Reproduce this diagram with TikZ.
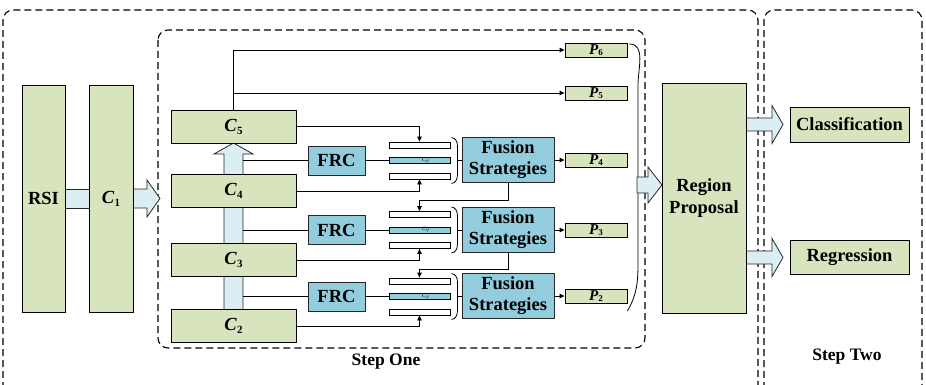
\documentclass[tikz,border=0pt]{standalone}
\usepackage{fontspec}
\setmainfont{Liberation Serif}
\usetikzlibrary{arrows.meta,calc}
\definecolor{boxgreen}{HTML}{D7E4BD}
\definecolor{boxblue}{HTML}{93CDDD}
\definecolor{fatblue}{HTML}{DAEEF3}
\definecolor{edgegray}{HTML}{262626}
% bold italic letter with an upright bold index
\newcommand\csym[2]{\textbf{\textit{#1}}\raisebox{-0.35ex}{\fontsize{11}{11}\selectfont\bfseries #2}}
\newcommand\psym[2]{{\fontsize{15}{15}\selectfont\textbf{\textit{#1}}}\raisebox{-0.3ex}{\fontsize{9}{9}\selectfont\bfseries #2}}
\begin{document}
\begin{tikzpicture}[x=1pt,y=-1pt,
  gbox/.style={draw=black, fill=boxgreen, line width=0.9pt, inner sep=0pt,
    align=center, font=\fontsize{18.5}{22}\selectfont\bfseries},
  bbox/.style={draw=edgegray, fill=boxblue, line width=0.9pt, inner sep=0pt,
    align=center, font=\fontsize{18.5}{21}\selectfont\bfseries},
  pbox/.style={draw=black, fill=boxgreen, line width=0.9pt, inner sep=0pt,
    minimum width=62pt, minimum height=14pt},
  cbox/.style={gbox, minimum width=125pt, minimum height=33pt},
  barbox/.style={draw=black, fill=white, line width=0.8pt, inner sep=0pt,
    minimum width=61pt, minimum height=6pt},
  fat/.style={draw=edgegray, fill=fatblue, line width=0.8pt},
  conn/.style={line width=0.8pt},
  tip/.style={-{Triangle[length=5pt,width=4.5pt]}},
  region/.style={draw=black, line width=1.1pt, dash pattern=on 7pt off 4pt, rounded corners=10pt},
  lbl/.style={font=\fontsize{17.5}{20}\selectfont\bfseries, inner sep=0pt}
]
\useasboundingbox (0,0) rectangle (926,385);

% dashed stage frames
\begin{scope}
  \clip (0,0) rectangle (926,385);
  \draw[region] (3,400) -- (3,10) -- (758,10) -- (758,400);
  \draw[region] (764,400) -- (764,10) -- (922,10) -- (922,400);
\end{scope}
\draw[region] (158,30) rectangle (645,348);

% wide arrows of the backbone
\draw[fat] (65,189) rectangle (89,208);
\draw[fat] (133,189) -- (147,189) -- (147,180) -- (160,198.5) -- (147,217)
  -- (147,208) -- (133,208) -- cycle;
\draw[fat] (224,310) -- (224,154) -- (214,154) -- (233.5,143) -- (253,154)
  -- (243,154) -- (243,310) -- cycle;
\coordinate (bodyR) at (243,0);

% input and first stage
\node[gbox, minimum width=43pt, minimum height=227pt] (RSI) at (43.5,198.5) {RSI};
\node[gbox, minimum width=44pt, minimum height=227pt] (C1) at (111,198.5) {\csym{C}{1}};

% feature levels
\node[cbox] (C5) at (233.5,126.5) {\csym{C}{5}};
\node[cbox] (C4) at (233.5,191) {\csym{C}{4}};
\node[cbox] (C3) at (233.5,260) {\csym{C}{3}};
\node[cbox] (C2) at (233.5,326) {\csym{C}{2}};

% FRC modules
\node[bbox, minimum width=57pt, minimum height=29pt] (F1) at (336.5,160.5) {FRC};
\node[bbox, minimum width=57pt, minimum height=29pt] (F2) at (336.5,230) {FRC};
\node[bbox, minimum width=57pt, minimum height=29pt] (F3) at (336.5,296.5) {FRC};

% stacked feature bars
\foreach \i/\y/\s in {1/160.5/4, 2/230/3, 3/296.5/2}{
  \node[barbox] (T\i) at (419.5,\y-15.5) {};
  \node[barbox, fill=boxblue] (M\i) at (419.5,\y) {};
  \node[barbox] (B\i) at (419.5,\y+15.5) {};
  \node[inner sep=0pt, font=\fontsize{5.5}{5.5}\selectfont\itshape] (L\i)
    at ($(M\i.center)+(6,0)$) {C\textsubscript{\s f}};
}

% fusion modules
\node[bbox, minimum width=92pt, minimum height=45pt] (FS1) at (508,160) {Fusion\\Strategies};
\node[bbox, minimum width=92pt, minimum height=45pt] (FS2) at (508,230) {Fusion\\Strategies};
\node[bbox, minimum width=92pt, minimum height=45pt] (FS3) at (508,296) {Fusion\\Strategies};

% pyramid outputs
\node[pbox] (P6) at (596,50) {\psym{P}{6}};
\node[pbox] (P5) at (596,93) {\psym{P}{5}};
\node[pbox] (P4) at (596,160) {\psym{P}{4}};
\node[pbox] (P3) at (596,230) {\psym{P}{3}};
\node[pbox] (P2) at (596,296) {\psym{P}{2}};

% backbone to FRC
\foreach \i in {1,2,3}{
  \draw[conn] (F\i.west -| bodyR) -- (F\i.west);
  \draw[conn] (F\i.east) -- (M\i.west);
  % bracket grouping the three bars
  \draw[conn] ($(T\i.north east)+(1,-4)$) to[out=0,in=90] ($(T\i.north east)+(7,4)$)
    -- ($(B\i.south east)+(7,-4)$) to[out=-90,in=0] ($(B\i.south east)+(1,4)$);
  \draw[conn] (FS\i.west) -- ++(-5,0);
}

% inputs to the outer bars
\draw[conn,tip] (C5.east) -| (T1.north);
\draw[conn,tip] (C4.east) -| (B1.south);
\draw[conn,tip] (FS1.south) -- ++(0,17) -| (T2.north);
\draw[conn,tip] (C3.east) -| (B2.south);
\draw[conn,tip] (FS2.south) -- ++(0,16) -| (T3.north);
\draw[conn,tip] (C2.east) -| (B3.south);

% outputs
\draw[conn,tip] (C5.north) |- (P6.west);
\draw[conn,tip] (C5.north |- P5.west) -- (P5.west);
\draw[conn,tip] (FS1.east) -- (P4.west);
\draw[conn,tip] (FS2.east) -- (P3.west);
\draw[conn,tip] (FS3.east) -- (P2.west);

% brace gathering the pyramid levels
\draw[conn] ($(P6.east)+(2,-6)$) to[out=0,in=90] (638,85) -- (638,255)
  to[out=-90,in=60] ($(P2.east)+(0,15)$);

% second stage
\draw[fat] (637,177) -- (648,177) -- (648,167) -- (662,185) -- (648,203)
  -- (648,193) -- (637,193) -- cycle;
\draw[fat] (740,118) -- (772,118) -- (772,105.5) -- (783,124.5) -- (772,143.5)
  -- (772,131) -- (740,131) -- cycle;
\draw[fat] (740,251) -- (772,251) -- (772,238.5) -- (783,257.5) -- (772,276.5)
  -- (772,264) -- (740,264) -- cycle;
\node[gbox, minimum width=84pt, minimum height=230pt] (RP) at (704,198) {Region\\Proposal};
\node[gbox, minimum width=119pt, minimum height=35pt] (CL) at (849.5,124.5) {Classification};
\node[gbox, minimum width=119pt, minimum height=34pt] (RG) at (849.5,257) {Regression};

% stage captions
\node[lbl] (S1) at (386,362) {Step One};
\node[lbl] (S2) at (847,357) {Step Two};
\end{tikzpicture}
\end{document}
